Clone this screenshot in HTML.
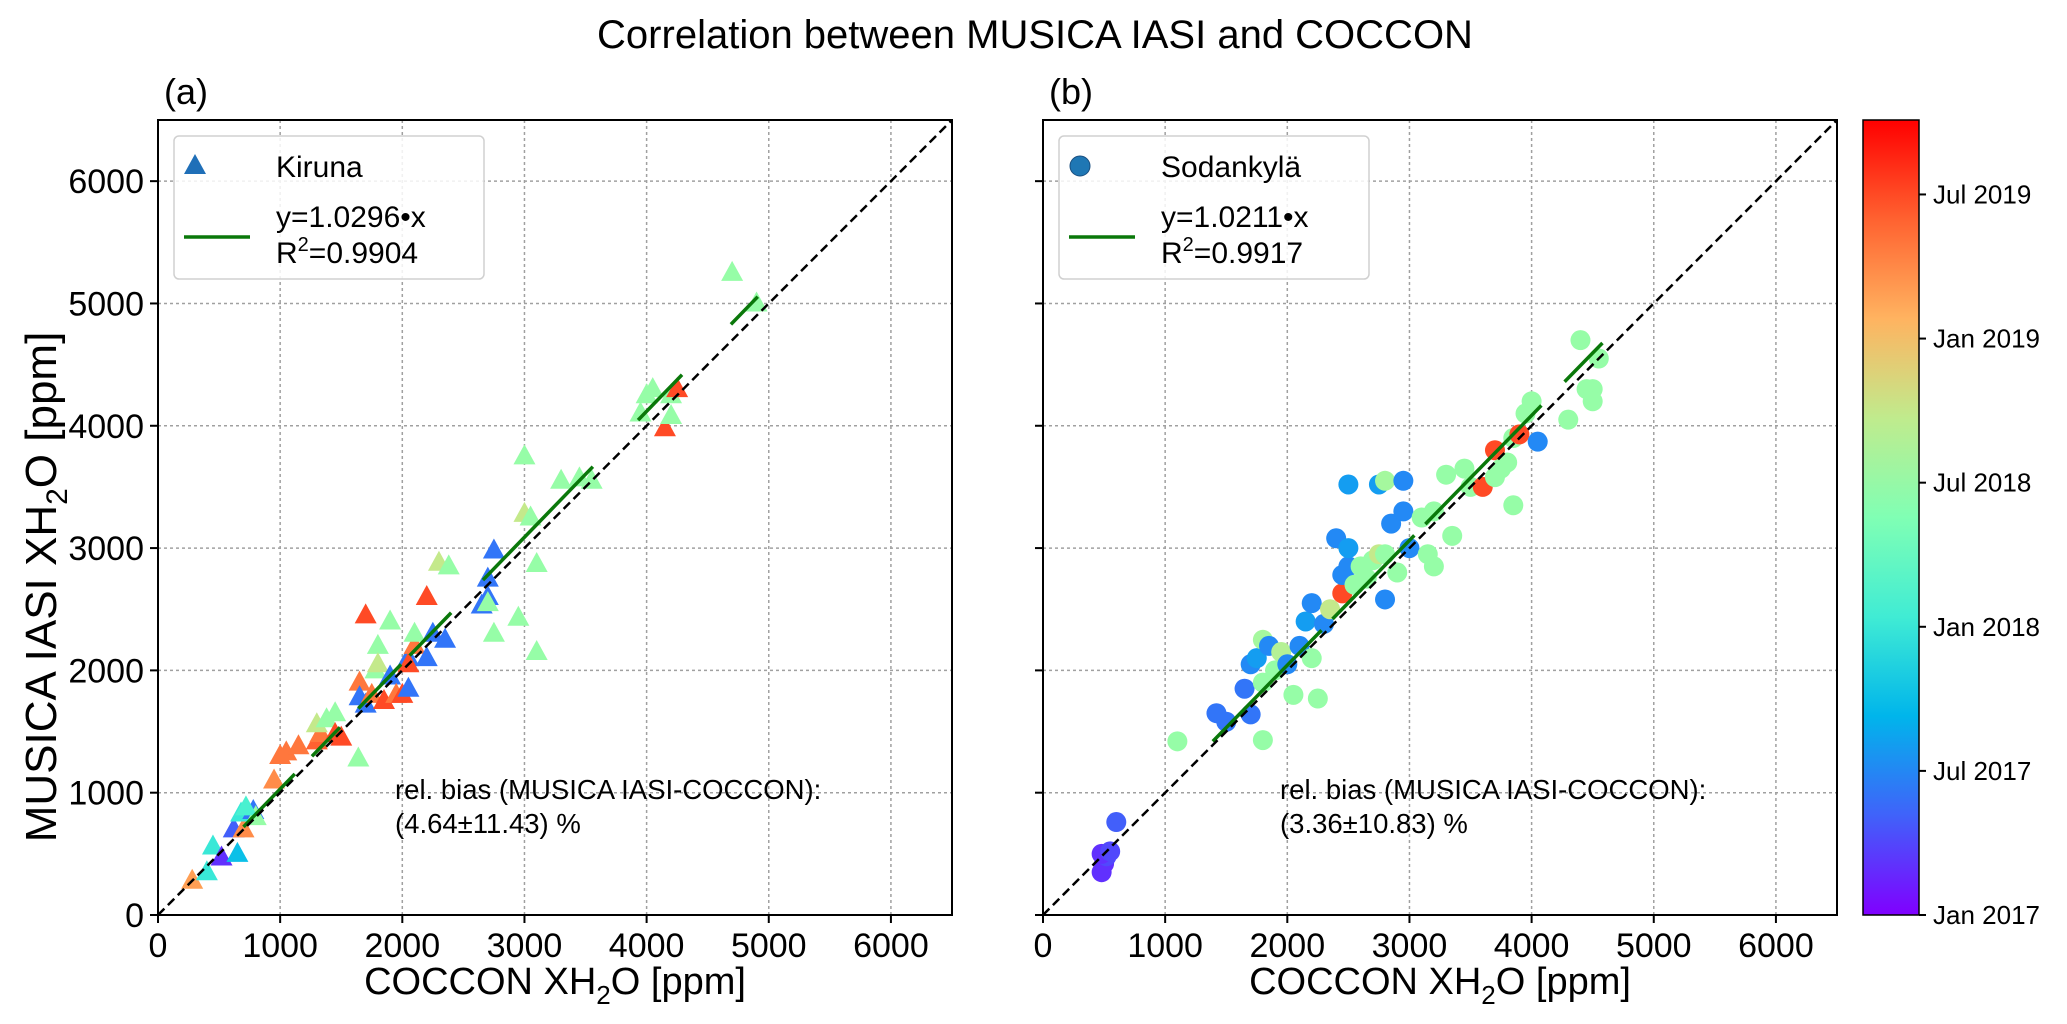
<!DOCTYPE html>
<html><head><meta charset="utf-8"><style>
html,body{margin:0;padding:0;background:#fff;}
svg{display:block;font-family:"Liberation Sans","DejaVu Sans",sans-serif;}
</style></head><body>
<svg id="chart" width="2067" height="1024" viewBox="0 0 2067 1024" xmlns="http://www.w3.org/2000/svg">
<defs>
<linearGradient id="cbgrad" x1="0" y1="1" x2="0" y2="0">
<stop offset="0" stop-color="#8000ff"/><stop offset="0.125" stop-color="#4062fa"/>
<stop offset="0.25" stop-color="#00b5eb"/><stop offset="0.375" stop-color="#40ecd4"/>
<stop offset="0.5" stop-color="#80ffb4"/><stop offset="0.625" stop-color="#c0eb8d"/>
<stop offset="0.75" stop-color="#ffb360"/><stop offset="0.875" stop-color="#ff6230"/>
<stop offset="1" stop-color="#ff0000"/>
</linearGradient>
</defs>
<text x="1035" y="48" font-size="40" text-anchor="middle">Correlation between MUSICA IASI and COCCON</text>
<g id="panelA"></g>
<g id="panelB"></g>
<g id="cbar"></g>
</svg>
<script>
// Kiruna data (ppm) and time (months since Jan 2017)
const kirunaX = [280,400,450,520,650,620,700,680,780,800,720,950,1000,1050,1150,1300,1330,1300,1380,1450,1450,1500,1640,1650,1650,1700,1750,1700,1780,1800,1800,1850,1900,1900,1950,2000,2050,2050,2050,2100,2100,2200,2200,2250,2300,2380,2350,2700,2700,2750,2650,2700,2750,2950,3000,3000,3050,3100,3100,3300,3450,3550,4000,4050,3950,4200,4250,4150,4200,4700,4900];
const kirunaY = [280,350,560,470,500,700,700,830,850,800,880,1100,1300,1330,1380,1420,1480,1560,1600,1480,1650,1450,1280,1900,1780,1720,1800,2450,2000,2200,2050,1750,1950,2400,1800,1800,1850,2100,2050,2200,2300,2100,2600,2300,2880,2850,2250,2600,2750,2980,2530,2550,2300,2430,3750,3280,3250,2870,2150,3550,3570,3550,4250,4300,4100,4250,4300,3980,4080,5250,5000];
const kirunaT = [26,12,12,2,9,4,27,12,5,18,13,27,28,28,28,29,28,21,18,30,18,30,18,28,5,5,28,30,18,18,21,30,5,18,28,30,5,5,30,28,18,5,30,5,21,18,5,5,5,5,5,18,18,18,18,21,18,18,18,18,18,18,18,18,18,18,30,30,18,18,18];
// Sodankylä data
const sodX = [480,500,520,480,550,600,1100,1420,1500,1700,1650,1700,1750,1800,1800,1800,1850,1900,1950,2000,2050,2100,2150,2200,2250,2200,2300,2350,2400,2450,2450,2500,2500,2500,2550,2600,2650,2700,2750,2750,2800,2800,2800,2850,2900,2950,3000,2950,3100,3150,3200,3200,3300,3350,3450,3500,3600,3700,3700,3750,3800,3850,3850,3900,3950,4000,4050,4300,4400,4450,4500,4550,4500];
const sodY = [350,420,480,500,520,760,1420,1650,1580,1640,1850,2050,2100,1900,1430,2250,2200,2000,2150,2050,1800,2200,2400,2550,1770,2100,2380,2500,3080,2630,2780,2850,3000,3520,2700,2850,2750,2900,2950,3520,2580,2950,3550,3200,2800,3550,3000,3300,3250,2950,2850,3300,3600,3100,3650,3500,3500,3800,3580,3650,3700,3350,3900,3930,4100,4200,3870,4050,4700,4300,4300,4550,4200];
const sodT = [2,2,3,2,3,4,18,5,5,5,5,6,7,18,18,19,6,18,20,6,18,6,7,6,18,18,6,21,6,30,6,6,7,7,18,18,18,18,21,7,6,18,19,6,18,6,6,6,18,18,18,18,18,18,18,18,30,30,18,18,18,18,18,30,18,18,6,18,18,18,18,18,18];
// fit-line segment extents (ppm)
const fitSegA = [[700,1120],[1260,1490],[1640,1990],[2060,2400],[2660,3560],[3930,4290],[4690,4910]];
const fitSegB = [[1390,2280],[2370,3040],[3130,4080],[4270,4580]];
const slopeA = 1.0296, slopeB = 1.0211;
const ticks = [0,1000,2000,3000,4000,5000,6000];
const cbLabels = ["Jan 2017","Jul 2017","Jan 2018","Jul 2018","Jan 2019","Jul 2019"];
const cbMonths = [0,6,12,18,24,30];
const tMax = 33.1;

const NS="http://www.w3.org/2000/svg";
function mk(tag, attrs, parent, txt){const e=document.createElementNS(NS,tag);for(const k in attrs)e.setAttribute(k,attrs[k]);if(txt!==undefined)e.textContent=txt;parent.appendChild(e);return e;}
function cmap(t){const x=Math.max(0,Math.min(1,t/tMax));const r=Math.min(1,Math.abs(2*x-0.5)),g=Math.sin(Math.PI*x),b=Math.cos(Math.PI*x/2);return `rgb(${Math.round(r*255)},${Math.round(g*255)},${Math.round(b*255)})`;}

const yTop=120, yBot=915, vmax=6500;
function sy(v){return yBot-(v/vmax)*(yBot-yTop);}

function panel(g, x0, x1, xs, ys, ts, segs, slope, marker, letter, name, eq, r2, bias, showYLabels){
  const sx=v=>x0+(v/vmax)*(x1-x0);
  ticks.forEach(t=>{
    let l=mk('line',{x1:sx(t),x2:sx(t),y1:yTop,y2:yBot,stroke:'#a0a0a0','stroke-width':1.5,'stroke-dasharray':'3,3'},g);
    
    
    let l2=mk('line',{x1:x0,x2:x1,y1:sy(t),y2:sy(t),stroke:'#a0a0a0','stroke-width':1.5,'stroke-dasharray':'3,3'},g);
    
    
    let tk=mk('line',{x1:sx(t),x2:sx(t),y1:yBot,y2:yBot+8,stroke:'#000','stroke-width':2},g);
    
    
    let tl=mk('text',{x:sx(t),y:yBot+42,'font-size':34,'text-anchor':'middle'},g,String(t));
    
    
    let tk2=mk('line',{x1:x0-8,x2:x0,y1:sy(t),y2:sy(t),stroke:'#000','stroke-width':2},g);
    
    
    if(showYLabels){
      let yl=mk('text',{x:x0-14,y:sy(t)+12,'font-size':34,'text-anchor':'end'},g,String(t));
      
      
    }
  });
  for(let i=0;i<xs.length;i++){
    const cx=sx(xs[i]), cy=sy(ys[i]), c=cmap(ts[i]);
    let p;
    if(marker==='tri'){
      p=mk('polygon',{points:`${cx},${cy-12} ${cx-11},${cy+8} ${cx+11},${cy+8}`,fill:c},g);
    } else {
      p=mk('circle',{cx:cx,cy:cy,r:10,fill:c},g);
    }
    
    
  }
  segs.forEach(s=>{
    let l=mk('line',{x1:sx(s[0]),y1:sy(s[0]*slope),x2:sx(s[1]),y2:sy(s[1]*slope),stroke:'#0a780a','stroke-width':3.5},g);
    
    
  });
  let d=mk('line',{x1:sx(0),y1:sy(0),x2:sx(vmax),y2:sy(vmax),stroke:'#000','stroke-width':2.5,'stroke-dasharray':'9,5'},g);
  
  
  let fr=mk('rect',{x:x0,y:yTop,width:x1-x0,height:yBot-yTop,fill:'none',stroke:'#000','stroke-width':2},g);
  
  
  let lt=mk('text',{x:x0+6,y:104,'font-size':36},g,letter);
  
  
  const lg=mk('g',{},g);
  
  
  mk('rect',{x:x0+16,y:136,width:310,height:143,rx:5,fill:'#fff','fill-opacity':0.85,stroke:'#d0d0d0','stroke-width':1.5},lg);
  const mx=x0+37, my=166;
  let lm = marker==='tri' ? mk('polygon',{points:`${mx},${my-12} ${mx-11},${my+8} ${mx+11},${my+8}`,fill:'#1f6fb8'},lg)
                          : mk('circle',{cx:mx,cy:my,r:10,fill:'#1f77b4',stroke:'#1a4f80','stroke-width':1},lg);
  
  
  let ln=mk('text',{x:x0+118,y:177,'font-size':30},lg,name);
  
  
  let ll=mk('line',{x1:x0+26,x2:x0+92,y1:237,y2:237,stroke:'#0a780a','stroke-width':3.5},lg);
  
  
  let le=mk('text',{x:x0+118,y:227,'font-size':30},lg,eq);
  
  
  let lr=mk('text',{x:x0+118,y:263,'font-size':30},lg);
  lr.appendChild(document.createTextNode('R'));
  mk('tspan',{dy:-12,'font-size':20},lr,'2');
  mk('tspan',{dy:12},lr,'='+r2);
  
  
  let b1=mk('text',{x:x0+237,y:799,'font-size':27.5},g,'rel. bias (MUSICA IASI-COCCON):');
  
  
  let b2=mk('text',{x:x0+237,y:833,'font-size':27.5},g,bias);
  
  
  let xl=mk('text',{x:(x0+x1)/2,y:994,'font-size':38,'text-anchor':'middle'},g);
  xl.appendChild(document.createTextNode('COCCON XH'));
  mk('tspan',{dy:10,'font-size':26},xl,'2');
  mk('tspan',{dy:-10},xl,'O [ppm]');
  
  
}
panel(document.getElementById('panelA'),158,952,kirunaX,kirunaY,kirunaT,fitSegA,slopeA,'tri','(a)','Kiruna','y=1.0296•x','0.9904','(4.64±11.43) %',true);
panel(document.getElementById('panelB'),1043,1837,sodX,sodY,sodT,fitSegB,slopeB,'circ','(b)','Sodankylä','y=1.0211•x','0.9917','(3.36±10.83) %',false);

const svg=document.getElementById('chart');
const yl=mk('text',{x:0,y:0,'font-size':44,'text-anchor':'middle',transform:'translate(56,587) rotate(-90)'},svg);
yl.appendChild(document.createTextNode('MUSICA IASI XH'));
mk('tspan',{dy:11,'font-size':30},yl,'2');
mk('tspan',{dy:-11},yl,'O [ppm]');



const cb=document.getElementById('cbar');
const cbx=1863, cbw=56;
const cy=m=>yBot-(m/tMax)*(yBot-yTop);
const cr=mk('rect',{x:cbx,y:yTop,width:cbw,height:yBot-yTop,fill:'url(#cbgrad)',stroke:'#000','stroke-width':1.5},cb);


cbLabels.forEach((lab,i)=>{
  const y=cy(cbMonths[i]);
  let t=mk('line',{x1:cbx+cbw,x2:cbx+cbw+7,y1:y,y2:y,stroke:'#000','stroke-width':2},cb);
  
  
  let tx=mk('text',{x:cbx+cbw+14,y:y+9,'font-size':26},cb,lab);
  
  
});
</script>
</body></html>
